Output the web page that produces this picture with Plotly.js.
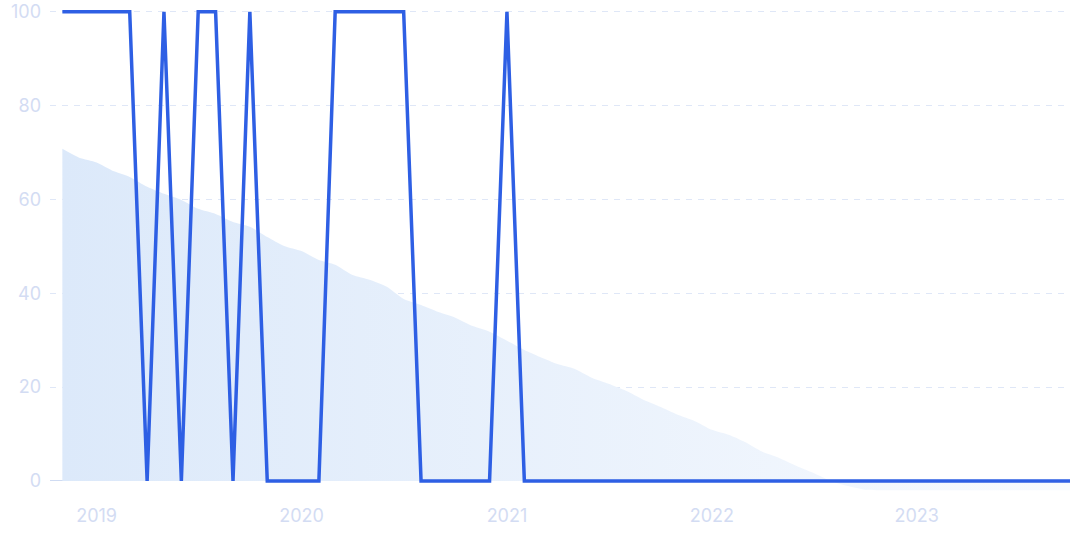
<!DOCTYPE html>
<html>
<head>
<meta charset="utf-8">
<script src="https://cdn.plot.ly/plotly-3.0.1.min.js"></script>
<style>
  html, body { margin: 0; padding: 0; background: #ffffff; }
  #chart { width: 1075px; height: 537px; }
</style>
</head>
<body>
<div id="chart"></div>
<script>
// Monthly dates, Nov 2018 to Oct 2023
const months = [
  '2018-11-01','2018-12-01',
  '2019-01-01','2019-02-01','2019-03-01','2019-04-01','2019-05-01','2019-06-01','2019-07-01','2019-08-01','2019-09-01','2019-10-01','2019-11-01','2019-12-01',
  '2020-01-01','2020-02-01','2020-03-01','2020-04-01','2020-05-01','2020-06-01','2020-07-01','2020-08-01','2020-09-01','2020-10-01','2020-11-01','2020-12-01',
  '2021-01-01','2021-02-01','2021-03-01','2021-04-01','2021-05-01','2021-06-01','2021-07-01','2021-08-01','2021-09-01','2021-10-01','2021-11-01','2021-12-01',
  '2022-01-01','2022-02-01','2022-03-01','2022-04-01','2022-05-01','2022-06-01','2022-07-01','2022-08-01','2022-09-01','2022-10-01','2022-11-01','2022-12-01',
  '2023-01-01','2023-02-01','2023-03-01','2023-04-01','2023-05-01','2023-06-01','2023-07-01','2023-08-01','2023-09-01','2023-10-01'
];

// Shaded area series (declining)
const areaValues = [
  70.8, 68.9, 67.9, 66.0, 64.8, 62.7, 61.2, 59.9, 58.0, 56.9,
  55.2, 54.2, 52.0, 50.1, 49.0, 47.1, 46.1, 43.9, 42.9, 41.4,
  38.8, 37.5, 36.0, 34.8, 33.0, 31.8, 29.9, 27.9, 26.4, 24.9,
  23.9, 22.0, 20.7, 19.2, 17.3, 15.8, 14.1, 12.8, 10.9, 9.8,
  8.3, 6.2, 4.9, 3.2, 1.7, 0.0, -1.1, -1.9, -2.0, -2.0,
  -2.0, -2.0, -2.0, -2.0, -2.0, -2.0, -2.0, -2.0, -2.0, -2.0
];

// Line series (0 / 100 states)
const lineValues = [
  100, 100, 100, 100, 100, 0, 100, 0, 100, 100,
  0, 100, 0, 0, 0, 0, 100, 100, 100, 100,
  100, 0, 0, 0, 0, 0, 100, 0, 0, 0,
  0, 0, 0, 0, 0, 0, 0, 0, 0, 0,
  0, 0, 0, 0, 0, 0, 0, 0, 0, 0,
  0, 0, 0, 0, 0, 0, 0, 0, 0, 0
];

const yTicks = [0, 20, 40, 60, 80, 100];
const xTickVals = ['2019-01-01', '2020-01-01', '2021-01-01', '2022-01-01', '2023-01-01'];
const xTickText = ['2019', '2020', '2021', '2022', '2023'];

const labelFont = { family: 'Inter, "Noto Sans", sans-serif', size: 18, color: '#d3dcf3' };

const traces = [
  {
    type: 'scatter',
    mode: 'lines',
    x: months,
    y: areaValues,
    fill: 'tozeroy',
    line: { width: 0, shape: 'spline', smoothing: 0.6 },
    fillcolor: '#e6effc',
    fillgradient: {
      type: 'horizontal',
      colorscale: [[0, '#dce9fa'], [1, '#f7fafe']]
    },
    hoverinfo: 'skip',
    showlegend: false
  },
  {
    type: 'scatter',
    mode: 'lines',
    x: months,
    y: lineValues,
    line: { color: '#2e5fe4', width: 3.5 },
    hoverinfo: 'skip',
    showlegend: false
  }
];

const layout = {
  width: 1075,
  height: 537,
  margin: { l: 50, r: 5, t: 9, b: 42 },
  paper_bgcolor: '#ffffff',
  plot_bgcolor: '#ffffff',
  font: labelFont,
  showlegend: false,
  xaxis: {
    type: 'date',
    range: ['2018-10-10', '2023-10-01'],
    tickvals: xTickVals,
    ticktext: xTickText,
    showgrid: false,
    zeroline: false,
    showline: false,
    ticks: '',
    ticklabelstandoff: 8,
    tickfont: labelFont,
    fixedrange: true
  },
  yaxis: {
    range: [-3, 100.6],
    tickvals: yTicks,
    ticktext: yTicks.map(String),
    showgrid: true,
    gridcolor: '#dfe7f7',
    griddash: '6px,6px',
    gridwidth: 1,
    zeroline: true,
    zerolinecolor: '#cfdbf2',
    zerolinewidth: 1,
    showline: false,
    ticks: '',
    ticklabelstandoff: 8,
    tickfont: labelFont,
    fixedrange: true
  }
};

Plotly.newPlot('chart', traces, layout, { displayModeBar: false, staticPlot: true });
</script>
</body>
</html>
